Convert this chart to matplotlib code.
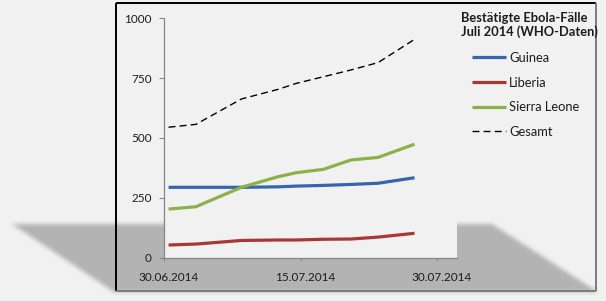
import numpy as np
import matplotlib
matplotlib.use("Agg")
import matplotlib.pyplot as plt
from matplotlib.path import Path
from datetime import date

# ---------------- data ----------------
dates = ["30.06.2014", "03.07.2014", "08.07.2014", "12.07.2014", "14.07.2014",
         "17.07.2014", "20.07.2014", "23.07.2014", "27.07.2014"]
guinea = [294, 294, 294, 296, 299, 302, 306, 311, 334]
liberia = [53, 57, 72, 74, 74, 77, 78, 86, 102]
sierra_leone = [203, 213, 294, 338, 355, 369, 408, 419, 474]
gesamt = [545, 557, 663, 703, 728, 756, 784, 815, 912]
series_labels = ["Guinea", "Liberia", "Sierra Leone", "Gesamt"]
tick_dates = ["30.06.2014", "15.07.2014", "30.07.2014"]
y_ticks = [0, 250, 500, 750, 1000]
legend_title = "Bestätigte Ebola-Fälle\nJuli 2014 (WHO-Daten)"

# ---------------- style ----------------
plt.rcParams['font.family'] = ['Lato', 'DejaVu Sans']
BG = '#f1f1f1'
BGV = 0xf1 / 255
TXT = '#1c1c1c'
AXC = '#868686'
FS = 8.5
LFS = 9.3
W, H = 606, 301


def to_day(s):
    d, m, y = (int(v) for v in s.split('.'))
    return (date(y, m, d) - date(2014, 6, 30)).days


x_pts = np.array([to_day(s) for s in dates]) + 0.5   # points sit in the middle of the day slot
tick_pos = [to_day(s) for s in tick_dates]

fig = plt.figure(figsize=(W / 100, H / 100), dpi=100, facecolor=BG)

# ---------- background: perspective shadow + frame ----------
bg = fig.add_axes([0, 0, 1, 1])
bg.set_zorder(0)

poly = Path([(12, 224), (492, 224), (598, 292), (114, 292), (12, 224)])
yy, xx = np.mgrid[0:H, 0:W]
mask = poly.contains_points(np.c_[xx.ravel() + 0.5, yy.ravel() + 0.5]).reshape(H, W).astype(float)


def blur(a, r, n=3):
    k = np.ones(2 * r + 1) / (2 * r + 1)
    for _ in range(n):
        a = np.apply_along_axis(lambda v: np.convolve(v, k, mode='same'), 0, a)
        a = np.apply_along_axis(lambda v: np.convolve(v, k, mode='same'), 1, a)
    return a


mask = blur(mask, 2, 2)
shade = BGV * (1 - mask) + 0.705 * mask
rgb = np.repeat(shade[..., None], 3, axis=2)
bg.imshow(rgb, extent=(0, W, H, 0), interpolation='nearest', aspect='auto')
bg.set_xlim(0, W)
bg.set_ylim(H, 0)
bg.axis('off')

bg.plot([116, 116], [3, 291], color='black', lw=1.4, solid_capstyle='butt')
bg.plot([116, 596], [3, 3], color='black', lw=1.4, solid_capstyle='butt')
bg.plot([596, 596], [3, 291], color='#7a7a7a', lw=1.4, solid_capstyle='butt')
bg.plot([116, 596], [291, 291], color='#7a7a7a', lw=1.4, solid_capstyle='butt')

# ---------- main axes ----------
x0, x1, y0, y1 = 164, 456.7, 18.3, 257.7
ax = fig.add_axes([x0 / W, 1 - y1 / H, (x1 - x0) / W, (y1 - y0) / H])
ax.set_zorder(1)
ax.set_facecolor(BG)

ax.plot(x_pts, guinea, color='#3466ab', lw=2.3, solid_capstyle='butt', label=series_labels[0])
ax.plot(x_pts, liberia, color='#a83836', lw=2.3, solid_capstyle='butt', label=series_labels[1])
ax.plot(x_pts, sierra_leone, color='#8cb14a', lw=2.3, solid_capstyle='butt', label=series_labels[2])
ax.plot(x_pts, gesamt, color='black', lw=1.0, ls=(0, (5, 3)), label=series_labels[3])

ax.set_xlim(0, 32.13)
ax.set_ylim(0, 1000)
for s in ['top', 'right']:
    ax.spines[s].set_visible(False)
for s in ['left', 'bottom']:
    ax.spines[s].set_color(AXC)
    ax.spines[s].set_linewidth(0.9)

ax.set_yticks(y_ticks)
ax.set_yticklabels([str(v) for v in y_ticks])
ax.tick_params(axis='y', direction='out', length=3.4, width=0.8, color=AXC,
               labelsize=FS, labelcolor=TXT, pad=5.5)

ax.set_xticks(tick_pos)
ax.set_xticklabels([])
ax.set_xticks([p + 0.5 for p in tick_pos], minor=True)
ax.set_xticklabels(tick_dates, minor=True)
ax.tick_params(axis='x', which='major', direction='out', length=2.5, width=0.8, color=AXC)
ax.tick_params(axis='x', which='minor', length=0, labelsize=FS, labelcolor=TXT, pad=10.5)

# ---------- legend ----------
fig.text(461 / W, 1 - 11.5 / H, legend_title, ha='left', va='top', fontsize=LFS,
         fontweight='bold', color=TXT, linespacing=1.2)
handles, labels = ax.get_legend_handles_labels()
leg = fig.legend(handles, labels, loc='upper left', bbox_to_anchor=(471.7 / W, 1 - 52 / H),
                 frameon=False, fontsize=LFS, handlelength=2.65, handletextpad=0.25,
                 labelspacing=0.98, borderpad=0, borderaxespad=0)
for t in leg.get_texts():
    t.set_color(TXT)

fig.savefig('out.png', dpi=100, facecolor=BG)
